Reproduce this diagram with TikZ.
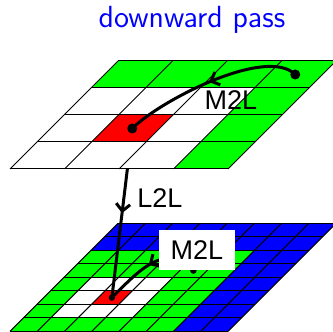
\documentclass[tikz,border=0pt]{standalone}
\usepackage{fontspec}
\newfontfamily\oplabel{Liberation Sans}
\usetikzlibrary{arrows.meta, decorations.markings}

\begin{document}
\begin{tikzpicture}[
    x=1pt, y=1pt,
    coarse/.style={shift={(5,81.5)}, x={(27.25pt,0pt)}, y={(13.5pt,13.5pt)}},
    fine/.style={shift={(5,0.3)}, x={(13.625pt,0pt)}, y={(6.75pt,6.75pt)}},
    cell/.style={draw=black, line width=0.5pt},
    dot/.style={circle, fill=black, inner sep=0pt, minimum size=#1},
    pass/.style={
        line width=1.5pt,
        postaction={decorate},
        decoration={markings,
            mark=at position 0.5 with {\arrow{Straight Barb[length=3.5pt, width=7pt]}}}
    },
    op/.style={font=\oplabel\fontsize{13.5}{16}\selectfont, inner sep=0pt}
]
\useasboundingbox (0,0) rectangle (166.5,166);

% centres of the boxes
\begin{scope}[coarse]
    \coordinate (parent) at (1.5,1.5);
    \coordinate (far) at (3.5,3.5);
\end{scope}
\begin{scope}[fine]
    \coordinate (child) at (2.5,2.5);
    \coordinate (near) at (4.5,4.5);
\end{scope}

% fine level
\begin{scope}[fine]
    \fill[blue] (0,0) -- (8,0) -- (8,8) -- (0,8) -- cycle;
    \fill[green] (0,0) -- (6,0) -- (6,6) -- (0,6) -- cycle;
    \fill[white] (1,1) -- (4,1) -- (4,4) -- (1,4) -- cycle;
    \fill[red] (2,2) -- (3,2) -- (3,3) -- (2,3) -- cycle;
    \foreach \k in {0,...,8} {
        \draw[cell] (\k,0) -- (\k,8);
        \draw[cell] (0,\k) -- (8,\k);
    }
\end{scope}

\draw[pass] (parent) -- node[op, right=6pt, pos=0.41] (l2l) {L2L} (child);

% coarse level
\begin{scope}[coarse]
    \fill[green] (0,0) -- (4,0) -- (4,4) -- (0,4) -- cycle;
    \fill[white] (0,0) -- (3,0) -- (3,3) -- (0,3) -- cycle;
    \fill[red] (1,1) -- (2,1) -- (2,2) -- (1,2) -- cycle;
    \foreach \k in {0,...,4} {
        \draw[cell] (\k,0) -- (\k,4);
        \draw[cell] (0,\k) -- (4,\k);
    }
\end{scope}

\node[dot=5pt] (farbox) at (far) {};
\node[dot=5pt] (parentbox) at (parent) {};
\draw[pass] (far) to[out=135, in=45, looseness=0.6] (parent);
\node[op, anchor=base] (m2lcoarse) at (115.5,111) {M2L};

\node[dot=3.2pt] (nearbox) at (near) {};
\node[dot=3.2pt] (childbox) at (child) {};
\draw[pass] (near) to[out=135, in=45, looseness=1.2] (child);
\node[op, fill=white, minimum width=38pt, minimum height=20pt] (m2lfine) at (98.5,41) {M2L};

\node[font=\sffamily\fontsize{15.3}{18}\selectfont, text=blue, anchor=base] (title) at (96,152) {downward pass};

\end{tikzpicture}
\end{document}
